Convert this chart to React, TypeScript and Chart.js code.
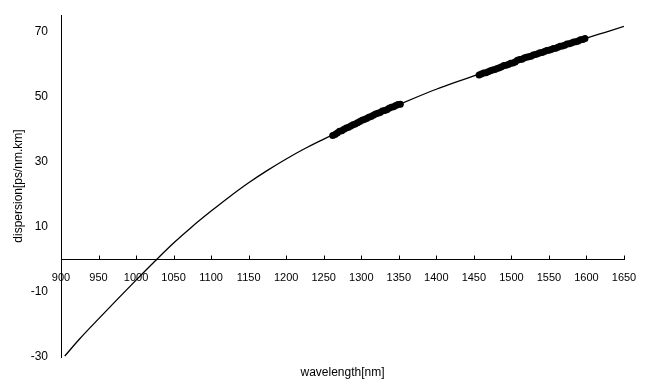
import React, { useEffect, useRef } from "react";
import { Chart, registerables } from "chart.js";

Chart.register(...registerables);

const fitWavelengths = [905, 925, 950, 975, 1000, 1025, 1050, 1075, 1100, 1125, 1150, 1175, 1200, 1225, 1250, 1275, 1300, 1325, 1350, 1375, 1400, 1425, 1450, 1475, 1500, 1525, 1550, 1575, 1600, 1625, 1650];
const fitDispersion = [-29.7, -24.4, -18.3, -12.3, -6.4, -0.6, 5.0, 10.1, 14.8, 19.3, 23.5, 27.3, 30.8, 34.0, 36.9, 39.7, 42.4, 45.0, 47.5, 49.9, 52.2, 54.3, 56.3, 58.3, 60.2, 62.2, 64.1, 66.0, 67.9, 69.7, 71.5];

const oBandWavelengths = [1262, 1265, 1268, 1271, 1274, 1277, 1280, 1283, 1286, 1289, 1292, 1295, 1298, 1301, 1304, 1307, 1310, 1313, 1316, 1319, 1322, 1325, 1328, 1331, 1334, 1337, 1340, 1343, 1346, 1349, 1352];
const oBandDispersion = [38.0, 38.3, 38.8, 39.3, 39.5, 39.9, 40.3, 40.5, 40.9, 41.3, 41.5, 41.9, 42.3, 42.7, 42.9, 43.2, 43.6, 43.8, 44.2, 44.6, 44.8, 45.1, 45.5, 45.7, 45.9, 46.4, 46.7, 46.8, 47.2, 47.5, 47.6];

const cBandWavelengths = [1457, 1460, 1463, 1466, 1469, 1472, 1475, 1478, 1481, 1484, 1487, 1490, 1493, 1496, 1499, 1502, 1505, 1508, 1511, 1514, 1517, 1520, 1523, 1526, 1529, 1532, 1535, 1538, 1541, 1544, 1547, 1550, 1553, 1556, 1559, 1562, 1565, 1568, 1571, 1574, 1577, 1580, 1583, 1586, 1589, 1592, 1595, 1598];
const cBandDispersion = [56.6, 56.9, 57.2, 57.3, 57.6, 57.9, 58.1, 58.3, 58.6, 58.8, 59.1, 59.5, 59.6, 59.8, 60.2, 60.3, 60.6, 61.1, 61.3, 61.4, 61.8, 62.0, 62.2, 62.3, 62.7, 62.9, 63.1, 63.4, 63.5, 63.8, 64.1, 64.2, 64.4, 64.7, 64.8, 65.1, 65.4, 65.5, 65.7, 66.1, 66.2, 66.4, 66.7, 66.8, 67.0, 67.4, 67.5, 67.8];

const xTicks = [900, 950, 1000, 1050, 1100, 1150, 1200, 1250, 1300, 1350, 1400, 1450, 1500, 1550, 1600, 1650];
const yTicks = [-30, -10, 10, 30, 50, 70];

const xTitle = "wavelength[nm]";
const yTitle = "dispersion[ps/nm.km]";

const FONT = "'Liberation Sans', Arial, sans-serif";

const toPoints = (xs: number[], ys: number[]) => xs.map((x, i) => ({ x, y: ys[i] }));

const zeroPad = (s: any) => {
  s.paddingTop = 0;
  s.paddingBottom = 0;
  s.paddingLeft = 0;
  s.paddingRight = 0;
};

const axisDecor = {
  id: "axisDecor",
  afterDraw(chart: any) {
    const ctx = chart.ctx;
    const xs = chart.scales.x;
    const ys = chart.scales.y;
    const y0 = Math.round(ys.getPixelForValue(0)) + 0.5;
    ctx.save();
    ctx.strokeStyle = "#000";
    ctx.lineWidth = 1;
    ctx.beginPath();
    xTicks.forEach((v) => {
      const px = Math.round(xs.getPixelForValue(v)) + 0.5;
      ctx.moveTo(px, y0);
      ctx.lineTo(px, y0 - 4);
    });
    ctx.stroke();
    ctx.fillStyle = "#000";
    ctx.font = `12px ${FONT}`;
    ctx.textAlign = "center";
    ctx.textBaseline = "middle";
    const ca = chart.chartArea;
    ctx.fillText(xTitle, (ca.left + ca.right) / 2, ca.bottom + 16);
    ctx.restore();
  },
};

export default function App() {
  const ref = useRef<HTMLCanvasElement>(null);
  useEffect(() => {
    document.body.style.margin = "0";
    const chart = new Chart(ref.current as HTMLCanvasElement, {
      type: "scatter",
      data: {
        datasets: [
          {
            data: toPoints(oBandWavelengths, oBandDispersion),
            pointRadius: 3.5,
            pointBackgroundColor: "#000",
            pointBorderWidth: 0,
            showLine: false,
          },
          {
            data: toPoints(cBandWavelengths, cBandDispersion),
            pointRadius: 3.5,
            pointBackgroundColor: "#000",
            pointBorderWidth: 0,
            showLine: false,
          },
          {
            data: toPoints(fitWavelengths, fitDispersion),
            showLine: true,
            borderColor: "#000",
            borderWidth: 1.3,
            pointRadius: 0,
            cubicInterpolationMode: "monotone",
          },
        ],
      },
      options: {
        animation: false,
        responsive: false,
        layout: { padding: { left: 0, right: 21, top: 15, bottom: 33 } },
        plugins: { legend: { display: false }, tooltip: { enabled: false }, title: { display: false } },
        scales: {
          x: {
            type: "linear",
            min: 900,
            max: 1650,
            position: { y: 0 } as any,
            grid: { display: false, drawTicks: false },
            border: { display: true, color: "#000", width: 1 },
            afterBuildTicks: (s: any) => {
              s.ticks = xTicks.map((value) => ({ value }));
            },
            afterFit: zeroPad,
            ticks: {
              color: "#000",
              font: { size: 11, family: FONT },
              padding: 12,
              autoSkip: false,
              maxRotation: 0,
              callback: (v: any) => String(v),
            },
          },
          y: {
            type: "linear",
            min: -30,
            max: 75,
            grid: { display: false, drawTicks: false },
            border: { display: true, color: "#000", width: 1 },
            afterBuildTicks: (s: any) => {
              s.ticks = yTicks.map((value) => ({ value }));
            },
            afterFit: (s: any) => {
              s.width = 61;
              zeroPad(s);
            },
            ticks: {
              color: "#000",
              font: { size: 12, family: FONT },
              padding: 13,
              callback: (v: any) => String(v),
            },
            title: {
              display: true,
              text: yTitle,
              color: "#000",
              font: { size: 12, family: FONT },
              padding: { top: 11, bottom: 0 },
            },
          },
        },
      },
      plugins: [axisDecor],
    });
    return () => chart.destroy();
  }, []);
  return (
    <div style={{ position: "absolute", left: 0, top: 0, width: 645, height: 390 }}>
      <canvas ref={ref} width={645} height={390} />
    </div>
  );
}
